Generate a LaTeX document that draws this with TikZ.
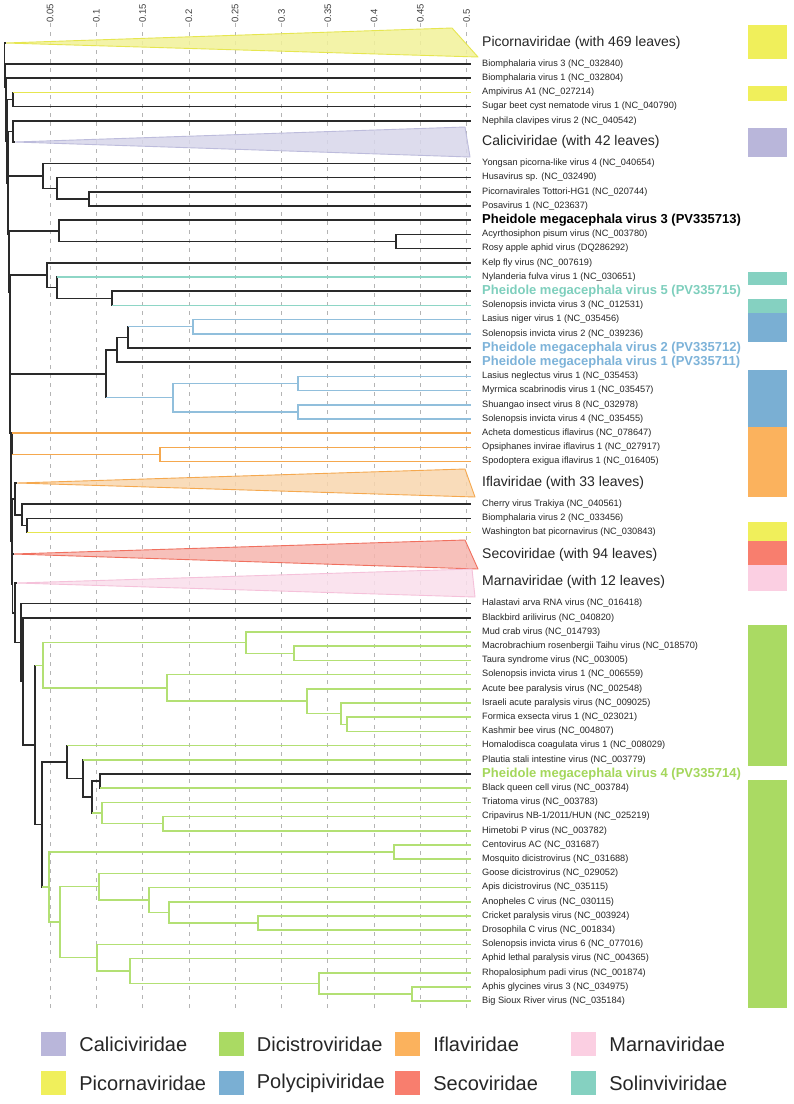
\documentclass[tikz,border=0pt]{standalone}
\usepackage{fontspec}
\setmainfont{Liberation Sans}
\usepackage{tikz}
\usetikzlibrary{positioning}

\definecolor{treeblk}{HTML}{2A2A2A}
\definecolor{gridgray}{HTML}{B4B4B4}
\definecolor{picoL}{HTML}{E6E650}
\definecolor{picoF}{HTML}{F2F299}
\definecolor{calL}{HTML}{BDBCDC}
\definecolor{calF}{HTML}{D8D7EB}
\definecolor{iflL}{HTML}{F5A84E}
\definecolor{iflF}{HTML}{F8D6AE}
\definecolor{secL}{HTML}{F0705F}
\definecolor{secF}{HTML}{F6B6AE}
\definecolor{marL}{HTML}{F5C1DA}
\definecolor{marF}{HTML}{FADFEC}
\definecolor{solL}{HTML}{8ED6C6}
\definecolor{polL}{HTML}{91BFDC}
\definecolor{dicL}{HTML}{B3E074}
\definecolor{picoB}{HTML}{F0EF5B}
\definecolor{calB}{HTML}{B9B6DA}
\definecolor{solB}{HTML}{85D1C1}
\definecolor{polB}{HTML}{7AAFD3}
\definecolor{iflB}{HTML}{FBB25D}
\definecolor{secB}{HTML}{F87E6E}
\definecolor{marB}{HTML}{FBCFE2}
\definecolor{dicB}{HTML}{AADA63}
\definecolor{solT}{HTML}{7ECFBD}
\definecolor{polT}{HTML}{7DB3D9}
\definecolor{dicT}{HTML}{A4D75B}

\newcommand{\leaffont}{\fontsize{9.2}{11}\selectfont}
\newcommand{\cladefont}{\fontsize{14}{16}\selectfont}
\newcommand{\pmvfont}{\fontsize{13}{15}\selectfont\bfseries}
\newcommand{\axfont}{\fontsize{9.5}{11}\selectfont}
\newcommand{\legendfont}{\fontsize{20}{24}\selectfont}

\begin{document}
\begin{tikzpicture}[
    x=1pt, y=-1pt,
    br/.style={line width=1.5pt, draw=treeblk},
    yl/.style={draw=picoL},
    tl/.style={draw=solL},
    bl/.style={draw=polL},
    ol/.style={draw=iflL},
    gl/.style={draw=dicL},
    lf/.style={anchor=west, inner sep=0pt, font=\leaffont, text=black!85},
    clade/.style={anchor=west, inner sep=0pt, font=\cladefont, text=black!85},
    pmv/.style={anchor=west, inner sep=0pt, font=\pmvfont},
    tri/.style={line width=0.9pt, line join=round, fill opacity=0.85},
    axlab/.style={rotate=90, anchor=west, inner sep=0pt, font=\axfont, text=black!75},
    gridline/.style={draw=gridgray, line width=0.7pt, dash pattern=on 4pt off 5pt},
    swatch/.style={minimum width=25pt, minimum height=24pt, inner sep=0pt},
    legtext/.style={font=\legendfont, inner sep=0pt, text=black!85}
]
\useasboundingbox[fill=white] (0,0) rectangle (794,1104);

% distance axis
\coordinate (gridend) at (0,1008);
\coordinate (tip) at (471,0);
\node[axlab] (t05) at (50.0,23) {0.05};
\node[axlab] (t10) at (96.3,23) {0.1};
\node[axlab] (t15) at (142.6,23) {0.15};
\node[axlab] (t20) at (188.9,23) {0.2};
\node[axlab] (t25) at (235.2,23) {0.25};
\node[axlab] (t30) at (281.5,23) {0.3};
\node[axlab] (t35) at (327.8,23) {0.35};
\node[axlab] (t40) at (374.1,23) {0.4};
\node[axlab] (t45) at (420.4,23) {0.45};
\node[axlab] (t50) at (466.7,23) {0.5};
\draw[gridline] (t05.west) -- (t05.west |- gridend);
\draw[gridline] (t10.west) -- (t10.west |- gridend);
\draw[gridline] (t15.west) -- (t15.west |- gridend);
\draw[gridline] (t20.west) -- (t20.west |- gridend);
\draw[gridline] (t25.west) -- (t25.west |- gridend);
\draw[gridline] (t30.west) -- (t30.west |- gridend);
\draw[gridline] (t35.west) -- (t35.west |- gridend);
\draw[gridline] (t40.west) -- (t40.west |- gridend);
\draw[gridline] (t45.west) -- (t45.west |- gridend);
\draw[gridline] (t50.west) -- (t50.west |- gridend);

% collapsed clades
\coordinate (aPic) at (5,43);
\coordinate (aCal) at (15,142);
\coordinate (aIfl) at (17,483);
\coordinate (aSec) at (13,554);
\coordinate (aMar) at (17,583);
\draw[tri, draw=picoL, fill=picoF] (aPic) -- (452,28) -- (478,57) -- cycle;
\draw[tri, draw=calL, fill=calF] (aCal) -- (465,127) -- (470,157) -- cycle;
\draw[tri, draw=iflL, fill=iflF] (aIfl) -- (465,469) -- (475,497) -- cycle;
\draw[tri, draw=secL, fill=secF] (aSec) -- (465,540) -- (478,569) -- cycle;
\draw[tri, draw=marL, fill=marF] (aMar) -- (472,569) -- (475,597) -- cycle;
\node[clade] (cPic) at (482,43) {Picornaviridae (with 469 leaves)};
\node[clade] (cCal) at (482,142) {Caliciviridae (with 42 leaves)};
\node[clade] (cIfl) at (482,483) {Iflaviridae (with 33 leaves)};
\node[clade] (cSec) at (482,555) {Secoviridae (with 94 leaves)};
\node[clade] (cMar) at (482,582) {Marnaviridae (with 12 leaves)};

% family colour strip
\fill[picoB] (748,25) rectangle (787,59);
\fill[picoB] (748,86) rectangle (787,101);
\fill[calB] (748,128) rectangle (787,157);
\fill[solB] (748,272) rectangle (787,285);
\fill[solB] (748,299) rectangle (787,313);
\fill[polB] (748,313) rectangle (787,342);
\fill[polB] (748,370) rectangle (787,427);
\fill[iflB] (748,427) rectangle (787,497);
\fill[picoB] (748,522) rectangle (787,541);
\fill[secB] (748,541) rectangle (787,565);
\fill[marB] (748,565) rectangle (787,591);
\fill[dicB] (748,625) rectangle (787,766);
\fill[dicB] (748,780) rectangle (787,1008);

% leaves
\node[lf] (bv3) at (482,64.0) {Biomphalaria virus 3 (NC\_032840)};
\node[lf] (bv1) at (482,78.2) {Biomphalaria virus 1 (NC\_032804)};
\node[lf] (ampi) at (482,92.4) {Ampivirus A1 (NC\_027214)};
\node[lf] (sbcnv) at (482,106.6) {Sugar beet cyst nematode virus 1 (NC\_040790)};
\node[lf] (ncv2) at (482,120.8) {Nephila clavipes virus 2 (NC\_040542)};
\node[lf] (ypv4) at (482,163.4) {Yongsan picorna-like virus 4 (NC\_040654)};
\node[lf] (husa) at (482,177.6) {Husavirus sp. (NC\_032490)};
\node[lf] (tott) at (482,191.8) {Picornavirales Tottori-HG1 (NC\_020744)};
\node[lf] (posa) at (482,206.0) {Posavirus 1 (NC\_023637)};
\node[pmv] (pmv3) at (482,220.2) {Pheidole megacephala virus 3 (PV335713)};
\node[lf] (apv) at (482,234.4) {Acyrthosiphon pisum virus (NC\_003780)};
\node[lf] (raav) at (482,248.6) {Rosy apple aphid virus (DQ286292)};
\node[lf] (kfv) at (482,262.8) {Kelp fly virus (NC\_007619)};
\node[lf] (nfv1) at (482,277.0) {Nylanderia fulva virus 1 (NC\_030651)};
\node[pmv, text=solT] (pmv5) at (482,291.2) {Pheidole megacephala virus 5 (PV335715)};
\node[lf] (sinv3) at (482,305.4) {Solenopsis invicta virus 3 (NC\_012531)};
\node[lf] (lnv1) at (482,319.6) {Lasius niger virus 1 (NC\_035456)};
\node[lf] (sinv2) at (482,333.8) {Solenopsis invicta virus 2 (NC\_039236)};
\node[pmv, text=polT] (pmv2) at (482,348.0) {Pheidole megacephala virus 2 (PV335712)};
\node[pmv, text=polT] (pmv1) at (482,362.2) {Pheidole megacephala virus 1 (PV335711)};
\node[lf] (lnegv) at (482,376.4) {Lasius neglectus virus 1 (NC\_035453)};
\node[lf] (msv1) at (482,390.6) {Myrmica scabrinodis virus 1 (NC\_035457)};
\node[lf] (siv8) at (482,404.8) {Shuangao insect virus 8 (NC\_032978)};
\node[lf] (sinv4) at (482,419.0) {Solenopsis invicta virus 4 (NC\_035455)};
\node[lf] (adiv) at (482,433.2) {Acheta domesticus iflavirus (NC\_078647)};
\node[lf] (oiiv) at (482,447.4) {Opsiphanes invirae iflavirus 1 (NC\_027917)};
\node[lf] (seiv) at (482,461.6) {Spodoptera exigua iflavirus 1 (NC\_016405)};
\node[lf] (cvt) at (482,504.2) {Cherry virus Trakiya (NC\_040561)};
\node[lf] (bv2) at (482,518.4) {Biomphalaria virus 2 (NC\_033456)};
\node[lf] (wbpv) at (482,532.6) {Washington bat picornavirus (NC\_030843)};
\node[lf] (harv) at (482,603.6) {Halastavi arva RNA virus (NC\_016418)};
\node[lf] (bbav) at (482,617.8) {Blackbird arilivirus (NC\_040820)};
\node[lf] (mcv) at (482,632.0) {Mud crab virus (NC\_014793)};
\node[lf] (mrtv) at (482,646.2) {Macrobrachium rosenbergii Taihu virus (NC\_018570)};
\node[lf] (tsv) at (482,660.4) {Taura syndrome virus (NC\_003005)};
\node[lf] (sinv1) at (482,674.6) {Solenopsis invicta virus 1 (NC\_006559)};
\node[lf] (abpv) at (482,688.8) {Acute bee paralysis virus (NC\_002548)};
\node[lf] (iapv) at (482,703.0) {Israeli acute paralysis virus (NC\_009025)};
\node[lf] (fev1) at (482,717.2) {Formica exsecta virus 1 (NC\_023021)};
\node[lf] (kbv) at (482,731.4) {Kashmir bee virus (NC\_004807)};
\node[lf] (hcv1) at (482,745.6) {Homalodisca coagulata virus 1 (NC\_008029)};
\node[lf] (psiv) at (482,759.8) {Plautia stali intestine virus (NC\_003779)};
\node[pmv, text=dicT] (pmv4) at (482,774.0) {Pheidole megacephala virus 4 (PV335714)};
\node[lf] (bqcv) at (482,788.2) {Black queen cell virus (NC\_003784)};
\node[lf] (trv) at (482,802.4) {Triatoma virus (NC\_003783)};
\node[lf] (cripa) at (482,816.6) {Cripavirus NB-1/2011/HUN (NC\_025219)};
\node[lf] (hipv) at (482,830.8) {Himetobi P virus (NC\_003782)};
\node[lf] (cav) at (482,845.0) {Centovirus AC (NC\_031687)};
\node[lf] (mdv) at (482,859.2) {Mosquito dicistrovirus (NC\_031688)};
\node[lf] (gdv) at (482,873.4) {Goose dicistrovirus (NC\_029052)};
\node[lf] (adv) at (482,887.6) {Apis dicistrovirus (NC\_035115)};
\node[lf] (acv) at (482,901.8) {Anopheles C virus (NC\_030115)};
\node[lf] (crpv) at (482,916.0) {Cricket paralysis virus (NC\_003924)};
\node[lf] (dcv) at (482,930.2) {Drosophila C virus (NC\_001834)};
\node[lf] (sinv6) at (482,944.4) {Solenopsis invicta virus 6 (NC\_077016)};
\node[lf] (alpv) at (482,958.6) {Aphid lethal paralysis virus (NC\_004365)};
\node[lf] (rhpv) at (482,972.8) {Rhopalosiphum padi virus (NC\_001874)};
\node[lf] (agv3) at (482,987.0) {Aphis glycines virus 3 (NC\_034975)};
\node[lf] (bsrv) at (482,1001.2) {Big Sioux River virus (NC\_035184)};

% internal nodes
\coordinate (sp1) at (4.5,65);
\coordinate (sp2) at (5.5,86.9);
\coordinate (sp3) at (6,109.7);
\coordinate (sp4) at (7,141.2);
\coordinate (sp5) at (8,182.8);
\coordinate (sp6) at (8.5,234.2);
\coordinate (sp7) at (9.5,292.5);
\coordinate (sp8) at (10,354.2);
\coordinate (sp9) at (10.5,433.2);
\coordinate (sp10) at (11,492.6);
\coordinate (sp11) at (12,541.4);
\coordinate (sp12) at (12.5,583.9);
\coordinate (nAS) at (13,99.5);
\coordinate (nNC) at (13,131.4);
\coordinate (nYo) at (43,175.8);
\coordinate (nHu) at (57,188.25);
\coordinate (nTH) at (89,198.9);
\coordinate (nP3) at (59,230.85);
\coordinate (nAR) at (396,241.5);
\coordinate (nKe) at (47,275.2);
\coordinate (nNy) at (57,287.65);
\coordinate (nS3) at (112,298.3);
\coordinate (nPo) at (106,373.75);
\coordinate (nP1) at (117,349.8);
\coordinate (nP2) at (128,337.35);
\coordinate (nLS) at (193,326.7);
\coordinate (nLM) at (173,397.7);
\coordinate (nLnM) at (298,383.5);
\coordinate (nSS) at (298,411.9);
\coordinate (nAc) at (12,443.85);
\coordinate (nOS) at (160,454.5);
\coordinate (nIf) at (15,498.9);
\coordinate (nCh) at (22,514.85);
\coordinate (nBW) at (27,525.5);
\coordinate (nMa) at (15,612.75);
\coordinate (nA) at (21,642.5);
\coordinate (nB) at (23,681.4);
\coordinate (nC) at (35,744.95);
\coordinate (nG1) at (43,665.3);
\coordinate (nMu) at (246,642.65);
\coordinate (nMT) at (294,653.3);
\coordinate (nS1) at (167,687.9);
\coordinate (nAB) at (307,701.2);
\coordinate (nIF) at (341,713.65);
\coordinate (nFK) at (347,724.3);
\coordinate (nD) at (42,824.6);
\coordinate (nHo) at (67,762);
\coordinate (nPl) at (83,778.45);
\coordinate (nPBT) at (92,797.1);
\coordinate (nPB) at (100,781.1);
\coordinate (nTr) at (102,813.05);
\coordinate (nCH) at (163,823.7);
\coordinate (nCe) at (49,887.15);
\coordinate (nCM) at (394,852.1);
\coordinate (nGA) at (60,922.2);
\coordinate (nGo) at (99,886.7);
\coordinate (nAp) at (149,900);
\coordinate (nAn) at (169,912.45);
\coordinate (nCD) at (258,923.1);
\coordinate (nS6) at (97,957.7);
\coordinate (nAL) at (130,971);
\coordinate (nRh) at (319,983.45);
\coordinate (nAG) at (412,994.1);

% backbone
\draw[br] (sp1) |- (aPic);
\draw[br] (sp1) |- (sp2);
\draw[br] (sp2) |- (bv3 -| tip);
\draw[br] (sp2) |- (sp3);
\draw[br] (sp3) |- (bv1 -| tip);
\draw[br] (sp3) |- (sp4);
\draw[br] (sp4) |- (nAS);
\draw[br] (sp4) |- (sp5);
\draw[br] (sp5) |- (nNC);
\draw[br] (sp5) |- (sp6);
\draw[br] (sp6) |- (nYo);
\draw[br] (sp6) |- (sp7);
\draw[br] (sp7) |- (nP3);
\draw[br] (sp7) |- (sp8);
\draw[br] (sp8) |- (nKe);
\draw[br] (sp8) |- (sp9);
\draw[br] (sp9) |- (nPo);
\draw[br] (sp9) |- (sp10);
\draw[br] (sp10) |- (nAc);
\draw[br] (sp10) |- (sp11);
\draw[br] (sp11) |- (nIf);
\draw[br] (sp11) |- (sp12);
\draw[br] (sp12) |- (aSec);
\draw[br] (sp12) |- (nMa);

% top clades
\draw[br] (nAS) |- (ampi -| tip);
\draw[br, yl] (nAS |- ampi) -- (ampi -| tip);
\draw[br] (nAS) |- (sbcnv -| tip);
\draw[br] (nNC) |- (ncv2 -| tip);
\draw[br] (nNC) |- (aCal);
\draw[br] (nYo) |- (ypv4 -| tip);
\draw[br] (nYo) |- (nHu);
\draw[br] (nHu) |- (husa -| tip);
\draw[br] (nHu) |- (nTH);
\draw[br] (nTH) |- (tott -| tip);
\draw[br] (nTH) |- (posa -| tip);
\draw[br] (nP3) |- (pmv3 -| tip);
\draw[br] (nP3) |- (nAR);
\draw[br] (nAR) |- (apv -| tip);
\draw[br] (nAR) |- (raav -| tip);

% Solinviviridae
\draw[br] (nKe) |- (kfv -| tip);
\draw[br] (nKe) |- (nNy);
\draw[br] (nNy) |- (nfv1 -| tip);
\draw[br, tl] (nNy |- nfv1) -- (nfv1 -| tip);
\draw[br] (nNy) |- (nS3);
\draw[br] (nS3) |- (pmv5 -| tip);
\draw[br] (nS3) |- (sinv3 -| tip);
\draw[br, tl] (nS3 |- sinv3) -- (sinv3 -| tip);

% Polycipiviridae
\draw[br] (nPo) |- (nP1);
\draw[br] (nPo) |- (nLM);
\draw[br, bl] (nPo |- nLM) -- (nLM);
\draw[br] (nP1) |- (nP2);
\draw[br] (nP1) |- (pmv1 -| tip);
\draw[br] (nP2) |- (nLS);
\draw[br, bl] (nP2 |- nLS) -- (nLS);
\draw[br] (nP2) |- (pmv2 -| tip);
\draw[br, bl] (nLS) |- (lnv1 -| tip);
\draw[br, bl] (nLS) |- (sinv2 -| tip);
\draw[br, bl] (nLM) |- (nLnM);
\draw[br, bl] (nLM) |- (nSS);
\draw[br, bl] (nLnM) |- (lnegv -| tip);
\draw[br, bl] (nLnM) |- (msv1 -| tip);
\draw[br, bl] (nSS) |- (siv8 -| tip);
\draw[br, bl] (nSS) |- (sinv4 -| tip);

% Iflaviridae and neighbours
\draw[br] (nAc) |- (adiv -| tip);
\draw[br] (nAc) |- (nOS);
\draw[br, ol] (nAc |- adiv) -- (adiv -| tip);
\draw[br, ol] (nAc |- nOS) -- (nOS);
\draw[br, ol] (nOS) |- (oiiv -| tip);
\draw[br, ol] (nOS) |- (seiv -| tip);
\draw[br] (nIf) |- (aIfl);
\draw[br] (nIf) |- (nCh);
\draw[br] (nCh) |- (cvt -| tip);
\draw[br] (nCh) |- (nBW);
\draw[br] (nBW) |- (bv2 -| tip);
\draw[br] (nBW) |- (wbpv -| tip);
\draw[br, yl] (nBW |- wbpv) -- (wbpv -| tip);

% lower part
\draw[br] (nMa) |- (aMar);
\draw[br] (nMa) |- (nA);
\draw[br] (nA) |- (harv -| tip);
\draw[br] (nA) |- (nB);
\draw[br] (nB) |- (bbav -| tip);
\draw[br] (nB) |- (nC);
\draw[br] (nC) |- (nG1);
\draw[br, gl] (nC |- nG1) -- (nG1);
\draw[br] (nC) |- (nD);

% Dicistroviridae
\draw[br, gl] (nG1) |- (nMu);
\draw[br, gl] (nG1) |- (nS1);
\draw[br, gl] (nMu) |- (mcv -| tip);
\draw[br, gl] (nMu) |- (nMT);
\draw[br, gl] (nMT) |- (mrtv -| tip);
\draw[br, gl] (nMT) |- (tsv -| tip);
\draw[br, gl] (nS1) |- (sinv1 -| tip);
\draw[br, gl] (nS1) |- (nAB);
\draw[br, gl] (nAB) |- (abpv -| tip);
\draw[br, gl] (nAB) |- (nIF);
\draw[br, gl] (nIF) |- (iapv -| tip);
\draw[br, gl] (nIF) |- (nFK);
\draw[br, gl] (nFK) |- (fev1 -| tip);
\draw[br, gl] (nFK) |- (kbv -| tip);

\draw[br] (nD) |- (nHo);
\draw[br] (nD) |- (nCe);
\draw[br, gl] (nD |- nCe) -- (nCe);
\draw[br] (nHo) |- (hcv1 -| tip);
\draw[br, gl] (nHo |- hcv1) -- (hcv1 -| tip);
\draw[br] (nHo) |- (nPl);
\draw[br] (nPl) |- (psiv -| tip);
\draw[br, gl] (nPl |- psiv) -- (psiv -| tip);
\draw[br] (nPl) |- (nPBT);
\draw[br] (nPBT) |- (nPB);
\draw[br] (nPBT) |- (nTr);
\draw[br, gl] (nPBT |- nTr) -- (nTr);
\draw[br] (nPB) |- (pmv4 -| tip);
\draw[br] (nPB) |- (bqcv -| tip);
\draw[br, gl] (nPB |- bqcv) -- (bqcv -| tip);
\draw[br, gl] (nTr) |- (trv -| tip);
\draw[br, gl] (nTr) |- (nCH);
\draw[br, gl] (nCH) |- (cripa -| tip);
\draw[br, gl] (nCH) |- (hipv -| tip);

\draw[br, gl] (nCe) |- (nCM);
\draw[br, gl] (nCe) |- (nGA);
\draw[br, gl] (nCM) |- (cav -| tip);
\draw[br, gl] (nCM) |- (mdv -| tip);
\draw[br, gl] (nGA) |- (nGo);
\draw[br, gl] (nGA) |- (nS6);
\draw[br, gl] (nGo) |- (gdv -| tip);
\draw[br, gl] (nGo) |- (nAp);
\draw[br, gl] (nAp) |- (adv -| tip);
\draw[br, gl] (nAp) |- (nAn);
\draw[br, gl] (nAn) |- (acv -| tip);
\draw[br, gl] (nAn) |- (nCD);
\draw[br, gl] (nCD) |- (crpv -| tip);
\draw[br, gl] (nCD) |- (dcv -| tip);
\draw[br, gl] (nS6) |- (sinv6 -| tip);
\draw[br, gl] (nS6) |- (nAL);
\draw[br, gl] (nAL) |- (alpv -| tip);
\draw[br, gl] (nAL) |- (nRh);
\draw[br, gl] (nRh) |- (rhpv -| tip);
\draw[br, gl] (nRh) |- (nAG);
\draw[br, gl] (nAG) |- (agv3 -| tip);
\draw[br, gl] (nAG) |- (bsrv -| tip);

% legend
\node[swatch, fill=calB] (swCal) at (53.5,1044) {};
\node[swatch, fill=dicB] (swDic) at (231,1044) {};
\node[swatch, fill=iflB] (swIfl) at (407.5,1044) {};
\node[swatch, fill=marB] (swMar) at (583.5,1044) {};
\node[swatch, fill=picoB] (swPic) at (53.5,1083) {};
\node[swatch, fill=polB] (swPol) at (231,1083) {};
\node[swatch, fill=secB] (swSec) at (407.5,1083) {};
\node[swatch, fill=solB] (swSol) at (583.5,1083) {};
\node[legtext, right=13pt of swCal] (lCal) {Caliciviridae};
\node[legtext, right=13pt of swDic] (lDic) {Dicistroviridae};
\node[legtext, right=13pt of swIfl] (lIfl) {Iflaviridae};
\node[legtext, right=13pt of swMar] (lMar) {Marnaviridae};
\node[legtext, right=13pt of swPic] (lPic) {Picornaviridae};
\node[legtext, right=13pt of swPol] (lPol) {Polycipiviridae};
\node[legtext, right=13pt of swSec] (lSec) {Secoviridae};
\node[legtext, right=13pt of swSol] (lSol) {Solinviviridae};
\end{tikzpicture}
\end{document}
